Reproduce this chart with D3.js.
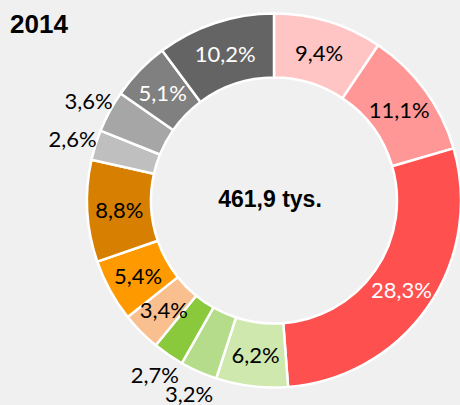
<!DOCTYPE html>
<html>
<head>
<meta charset="utf-8">
<script src="https://cdn.jsdelivr.net/npm/d3@7"></script>
<style>
  html, body { margin: 0; padding: 0; background: #f0f0f0; }
  svg { display: block; }
</style>
</head>
<body>
<div id="donut"></div>
<script>
// values in percent, clockwise from 12 o'clock
var shares = [9.4, 11.1, 28.3, 6.2, 3.2, 2.7, 3.4, 5.4, 8.8, 2.6, 3.6, 5.1, 10.2];
var colors = ["#ffc5c5", "#ff9797", "#ff5050", "#cfe8ad", "#b4dc8a", "#8ac83c",
              "#f9bf8f", "#ff9900", "#d67f00", "#bfbfbf", "#a6a6a6", "#808080", "#646464"];
// slices whose label sits outside the ring
var outside = [4, 5, 9, 10];
// slices with white label text
var lightText = [2, 11, 12];
var title = "2014";
var total = "461,9 tys.";

var width = 460, height = 405,
    cx = 274, cy = 200.5,
    inner = 123, outer = 187;

var svg = d3.select("#donut")
  .append("svg")
    .attr("width", width)
    .attr("height", height)
    .style("background", "#f0f0f0");

svg.append("text")
  .attr("x", 10)
  .attr("y", 33)
  .attr("font-family", "Liberation Sans, Arial, sans-serif")
  .attr("font-weight", "bold")
  .attr("font-size", 26)
  .text(title);

var g = svg.append("g")
  .attr("transform", "translate(" + cx + "," + cy + ")");

var pie = d3.pie().sort(null).value(function(d) { return d; });
var arcs = pie(shares);

var arc = d3.arc().innerRadius(inner).outerRadius(outer);
var labelArc = d3.arc().innerRadius(155).outerRadius(155);
var outArc = d3.arc().innerRadius(211).outerRadius(211);

g.selectAll("path")
  .data(arcs)
  .enter()
  .append("path")
    .attr("d", arc)
    .attr("fill", function(d, i) { return colors[i]; })
    .attr("stroke", "#fff")
    .attr("stroke-width", 2.5)
    .attr("stroke-linejoin", "round");

var fmt = function(v) { return v.toFixed(1).replace(".", ",") + "%"; };

g.selectAll("text.lbl")
  .data(arcs)
  .enter()
  .append("text")
    .attr("class", "lbl")
    .attr("transform", function(d, i) {
      var p = outside.indexOf(i) >= 0 ? outArc.centroid(d) : labelArc.centroid(d);
      return "translate(" + p[0] + "," + p[1] + ")";
    })
    .attr("text-anchor", "middle")
    .attr("dy", "0.4em")
    .attr("font-family", "Lato, Calibri, sans-serif")
    .attr("font-size", 22)
    .attr("fill", function(d, i) { return lightText.indexOf(i) >= 0 ? "#fff" : "#000"; })
    .text(function(d) { return fmt(d.data); });

svg.append("text")
  .attr("x", 270)
  .attr("y", 206.5)
  .attr("text-anchor", "middle")
  .attr("font-family", "Liberation Sans, Arial, sans-serif")
  .attr("font-weight", "bold")
  .attr("font-size", 23)
  .text(total);
</script>
</body>
</html>
